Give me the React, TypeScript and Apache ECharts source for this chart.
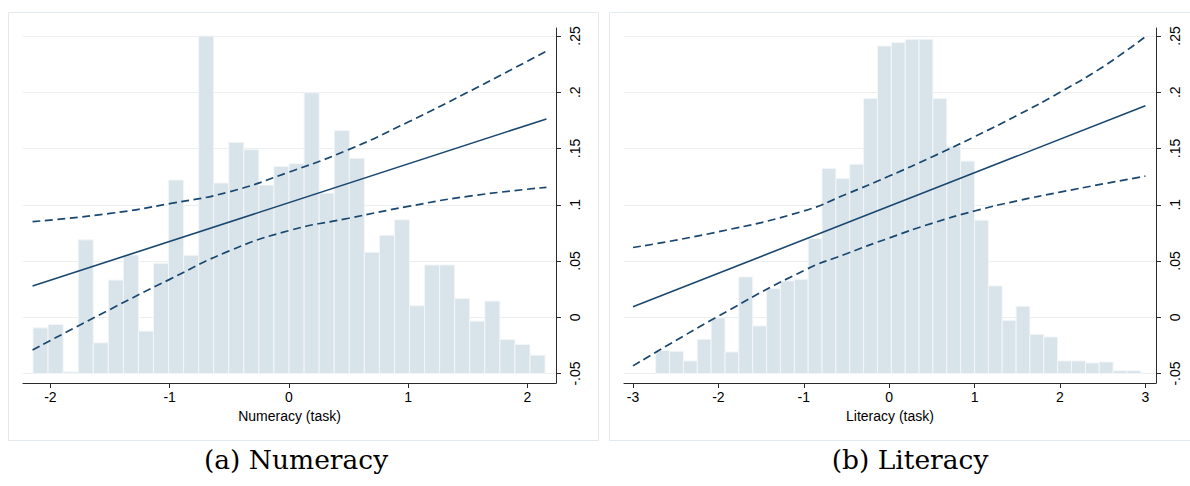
import React, { useEffect, useRef } from 'react';
import * as echarts from 'echarts';

// ---------- data ----------
const yTickValues = [-0.05, 0, 0.05, 0.1, 0.15, 0.2, 0.25];
const yTickLabels = ['-.05', '0', '.05', '.1', '.15', '.2', '.25'];
const numXTicks = [-2, -1, 0, 1, 2];
const litXTicks = [-3, -2, -1, 0, 1, 2, 3];

// histogram baseline (bars rise from the -.05 line)
const HIST_BASE = -0.05;

// Numeracy histogram: 34 bins
const numBinStart = -2.146;
const numBinWidth = 0.1263;
const numBarTops = [
  -0.0094, -0.0064, -0.0486, 0.0688, -0.0227, 0.0331, 0.0554, -0.0123, 0.048, 0.122,
  0.0551, 0.25, 0.1193, 0.1555, 0.149, 0.1175, 0.1341, 0.1365, 0.1995, 0.1104,
  0.1659, 0.1413, 0.0578, 0.0729, 0.0866, 0.0102, 0.0465, 0.0465, 0.0168, -0.0034,
  0.0144, -0.0198, -0.0242, -0.0337,
];

// Literacy histogram: 35 bins
const litBinStart = -2.734;
const litBinWidth = 0.1623;
const litBarTops = [
  -0.0294, -0.0302, -0.0388, -0.0196, -0.0006, -0.0308, 0.0359, -0.0077, 0.0255, 0.0323,
  0.0338, 0.07, 0.1323, 0.1234, 0.1361, 0.1945, 0.2411, 0.2441, 0.247, 0.247,
  0.1945, 0.1521, 0.1388, 0.0863, 0.0279, -0.0027, 0.0098, -0.0151, -0.0175, -0.0388,
  -0.0388, -0.0406, -0.0397, -0.0475, -0.0475,
];

// fitted lines
const numFitX = [-2.15, 2.16];
const numFitY = [0.0278, 0.1763];
const litFitX = [-3, 3];
const litFitY = [0.0094, 0.188];

// confidence bands
const numCiX = [-2.15, -1.5, -1, -0.5, 0, 0.5, 1, 1.5, 2.16];
const numCiUpper = [0.085, 0.0923, 0.101, 0.1115, 0.129, 0.149, 0.1735, 0.2, 0.2366];
const numCiLower = [-0.029, 0.007, 0.0337, 0.059, 0.077, 0.088, 0.0985, 0.1075, 0.1155];

const litCiX = [-3, -2, -1, -0.5, 0, 0.5, 1, 1.5, 2, 2.5, 3];
const litCiUpper = [0.062, 0.076, 0.0945, 0.1095, 0.1255, 0.1425, 0.1605, 0.1795, 0.2, 0.2225, 0.2494];
const litCiLower = [-0.0432, 0.001, 0.0415, 0.0565, 0.0705, 0.0835, 0.0945, 0.1035, 0.1112, 0.1185, 0.1254];

// ---------- styles ----------
const AXIS_COLOR = '#2a2a2a';
const LINE_COLOR = '#1a476f';
const BAR_COLOR = '#d8e3ea';
const BAR_EDGE = '#f3f6f8';
const GRID_COLOR = '#eceeef';
const FRAME_COLOR = '#e3eaef';
const SANS = '"Liberation Sans", Arial, sans-serif';
const SERIF = '"DejaVu Serif", serif';
const FS = 14;

const pairs = (xs: number[], ys: number[]) => xs.map((x, i) => [x, ys[i]]);
const histData = (start: number, width: number, tops: number[]) =>
  tops.map((t, i) => [start + i * width, start + (i + 1) * width, t]);

const panels = [
  {
    grid: { left: 23, top: 28, width: 533, height: 355 },
    xMin: -2.23, xMax: 2.24, xTicks: numXTicks, xName: 'Numeracy (task)',
    bars: histData(numBinStart, numBinWidth, numBarTops),
    fit: pairs(numFitX, numFitY),
    upper: pairs(numCiX, numCiUpper),
    lower: pairs(numCiX, numCiLower),
  },
  {
    grid: { left: 624, top: 28, width: 532, height: 355 },
    xMin: -3.105, xMax: 3.124, xTicks: litXTicks, xName: 'Literacy (task)',
    bars: histData(litBinStart, litBinWidth, litBarTops),
    fit: pairs(litFitX, litFitY),
    upper: pairs(litCiX, litCiUpper),
    lower: pairs(litCiX, litCiLower),
  },
];

function buildOption() {
  const grid = panels.map((p) => ({ ...p.grid, containLabel: false }));
  const xAxis = panels.map((p, i) => ({
    type: 'value',
    gridIndex: i,
    min: p.xMin,
    max: p.xMax,
    name: p.xName,
    nameLocation: 'middle',
    nameGap: 23,
    nameTextStyle: { fontFamily: SANS, fontSize: FS, color: '#000' },
    axisLine: { show: true, onZero: false, lineStyle: { color: AXIS_COLOR, width: 1 } },
    axisTick: { show: true, length: 5, customValues: p.xTicks, lineStyle: { color: AXIS_COLOR } },
    axisLabel: {
      customValues: p.xTicks, margin: 7, fontSize: FS, color: '#000', fontFamily: SANS,
      formatter: (v: number) => String(v),
    },
    splitLine: { show: false },
  }));
  const yAxis = panels.map((p, i) => ({
    type: 'value',
    gridIndex: i,
    position: 'right',
    min: -0.0584,
    max: 0.2571,
    axisLine: { show: true, onZero: false, lineStyle: { color: AXIS_COLOR, width: 1 } },
    axisTick: { show: true, length: 5, customValues: yTickValues, lineStyle: { color: AXIS_COLOR } },
    axisLabel: {
      customValues: yTickValues, rotate: 90, margin: 12, fontSize: FS, color: '#000', fontFamily: SANS,
      formatter: (v: number) => {
        const k = yTickValues.findIndex((t) => Math.abs(t - v) < 1e-9);
        return k >= 0 ? yTickLabels[k] : '';
      },
    },
    splitLine: { show: true, lineStyle: { color: GRID_COLOR, width: 1 } },
  }));
  const series: any[] = [];
  panels.forEach((p, i) => {
    series.push({
      type: 'custom',
      xAxisIndex: i,
      yAxisIndex: i,
      data: p.bars,
      encode: { x: [0, 1], y: 2 },
      z: 1,
      renderItem: (_params: any, api: any) => {
        const a = api.coord([api.value(0), api.value(2)]);
        const b = api.coord([api.value(1), HIST_BASE]);
        return {
          type: 'rect',
          shape: { x: a[0], y: a[1], width: b[0] - a[0], height: b[1] - a[1] },
          style: { fill: BAR_COLOR, stroke: BAR_EDGE, lineWidth: 1 },
        };
      },
    });
    series.push({
      type: 'line', xAxisIndex: i, yAxisIndex: i, data: p.fit, showSymbol: false, z: 3,
      lineStyle: { color: LINE_COLOR, width: 1.6 },
    });
    series.push({
      type: 'line', xAxisIndex: i, yAxisIndex: i, data: p.upper, showSymbol: false, smooth: 0.5, z: 3,
      lineStyle: { color: LINE_COLOR, width: 1.7, type: [8, 4.5] },
    });
    series.push({
      type: 'line', xAxisIndex: i, yAxisIndex: i, data: p.lower, showSymbol: false, smooth: 0.5, z: 3,
      lineStyle: { color: LINE_COLOR, width: 1.7, type: [8, 4.5] },
    });
  });
  const graphic = [
    { type: 'rect', z: -10, shape: { x: 8.5, y: 12.5, width: 590, height: 428 }, style: { fill: 'none', stroke: FRAME_COLOR, lineWidth: 1 } },
    { type: 'rect', z: -10, shape: { x: 609.5, y: 12.5, width: 620, height: 428 }, style: { fill: 'none', stroke: FRAME_COLOR, lineWidth: 1 } },
    { type: 'text', x: 296, y: 459, style: { text: '(a) Numeracy', font: `26.5px ${SERIF}`, textAlign: 'center', textVerticalAlign: 'middle', fill: '#000' } },
    { type: 'text', x: 910, y: 459, style: { text: '(b) Literacy', font: `26.5px ${SERIF}`, textAlign: 'center', textVerticalAlign: 'middle', fill: '#000' } },
  ];
  return {
    animation: false,
    backgroundColor: '#ffffff',
    grid,
    xAxis,
    yAxis,
    series,
    graphic,
  };
}

export default function App() {
  const ref = useRef<HTMLDivElement>(null);
  useEffect(() => {
    if (!ref.current) return;
    const chart = echarts.init(ref.current, undefined, { renderer: 'svg' });
    chart.setOption(buildOption() as any);
    return () => chart.dispose();
  }, []);
  return (
    <div
      ref={ref}
      style={{ position: 'absolute', left: 0, top: 0, width: 1190, height: 486, background: '#fff' }}
    />
  );
}
